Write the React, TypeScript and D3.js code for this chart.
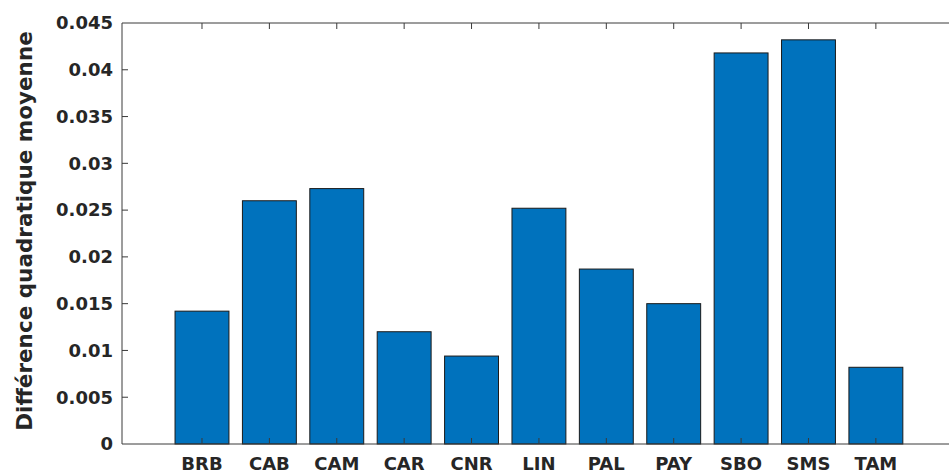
import React, { useEffect, useRef } from "react";
import * as d3 from "d3";

const stations = ["BRB", "CAB", "CAM", "CAR", "CNR", "LIN", "PAL", "PAY", "SBO", "SMS", "TAM"];
const rmsDiff = [0.0142, 0.026, 0.0273, 0.012, 0.0094, 0.0252, 0.0187, 0.015, 0.0418, 0.0432, 0.0082];
const yTicks = [0, 0.005, 0.01, 0.015, 0.02, 0.025, 0.03, 0.035, 0.04, 0.045];
const yTickLabels = ["0", "0.005", "0.01", "0.015", "0.02", "0.025", "0.03", "0.035", "0.04", "0.045"];

const App = () => {
  const ref = useRef<HTMLDivElement>(null);

  useEffect(() => {
    const width = 949;
    const height = 471;
    const left = 122;
    const top = 23;
    const bottom = 444;
    const axisColor = "#3a3a3a";

    d3.select(ref.current).select("svg").remove();

    const svg = d3
      .select(ref.current)
      .append("svg")
      .attr("width", width)
      .attr("height", height)
      .style("display", "block")
      .style("font-family", "'DejaVu Sans', sans-serif");

    // category index -> pixel (MATLAB style numeric x axis)
    const x = d3.scaleLinear().domain([-1.187, 11.1]).range([left, 950]);
    const y = d3.scaleLinear().domain([0, 0.045]).range([bottom, top]);
    const barW = (x(1) - x(0)) * 0.8;

    svg
      .append("g")
      .selectAll("rect")
      .data(rmsDiff)
      .enter()
      .append("rect")
      .attr("x", (_, i) => x(i) - barW / 2)
      .attr("y", (d) => y(d))
      .attr("width", barW)
      .attr("height", (d) => y(0) - y(d))
      .attr("fill", "#0072BD")
      .attr("stroke", "#1a1a1a")
      .attr("stroke-width", 1);

    // box
    const g = svg.append("g").attr("stroke", axisColor).attr("fill", "none");
    g.append("line").attr("x1", left).attr("x2", width + 2).attr("y1", top).attr("y2", top);
    g.append("line").attr("x1", left).attr("x2", width + 2).attr("y1", bottom).attr("y2", bottom);
    g.append("line").attr("x1", left).attr("x2", left).attr("y1", top).attr("y2", bottom);

    // y ticks
    yTicks.forEach((t, i) => {
      if (i > 0 && i < yTicks.length - 1) {
        g.append("line").attr("x1", left).attr("x2", left + 6).attr("y1", y(t)).attr("y2", y(t));
      }
      svg
        .append("text")
        .attr("x", left - 9)
        .attr("y", y(t))
        .attr("dy", "0.35em")
        .attr("text-anchor", "end")
        .attr("font-size", 18)
        .attr("font-weight", "bold")
        .attr("fill", "#262626")
        .text(yTickLabels[i]);
    });

    // x ticks (top and bottom, inward)
    stations.forEach((s, i) => {
      g.append("line").attr("x1", x(i)).attr("x2", x(i)).attr("y1", top).attr("y2", top + 6);
      g.append("line").attr("x1", x(i)).attr("x2", x(i)).attr("y1", bottom).attr("y2", bottom - 6);
      svg
        .append("text")
        .attr("x", x(i))
        .attr("y", 470)
        .attr("text-anchor", "middle")
        .attr("font-size", 18)
        .attr("font-weight", "bold")
        .attr("fill", "#262626")
        .text(s);
    });

    svg
      .append("text")
      .attr("transform", `translate(32, 231) rotate(-90)`)
      .attr("text-anchor", "middle")
      .attr("font-size", 21.5)
      .attr("font-weight", "bold")
      .attr("fill", "#262626")
      .text("Différence quadratique moyenne");
  }, []);

  return <div ref={ref} style={{ position: "absolute", left: 0, top: 0 }}></div>;
};

export default App;
